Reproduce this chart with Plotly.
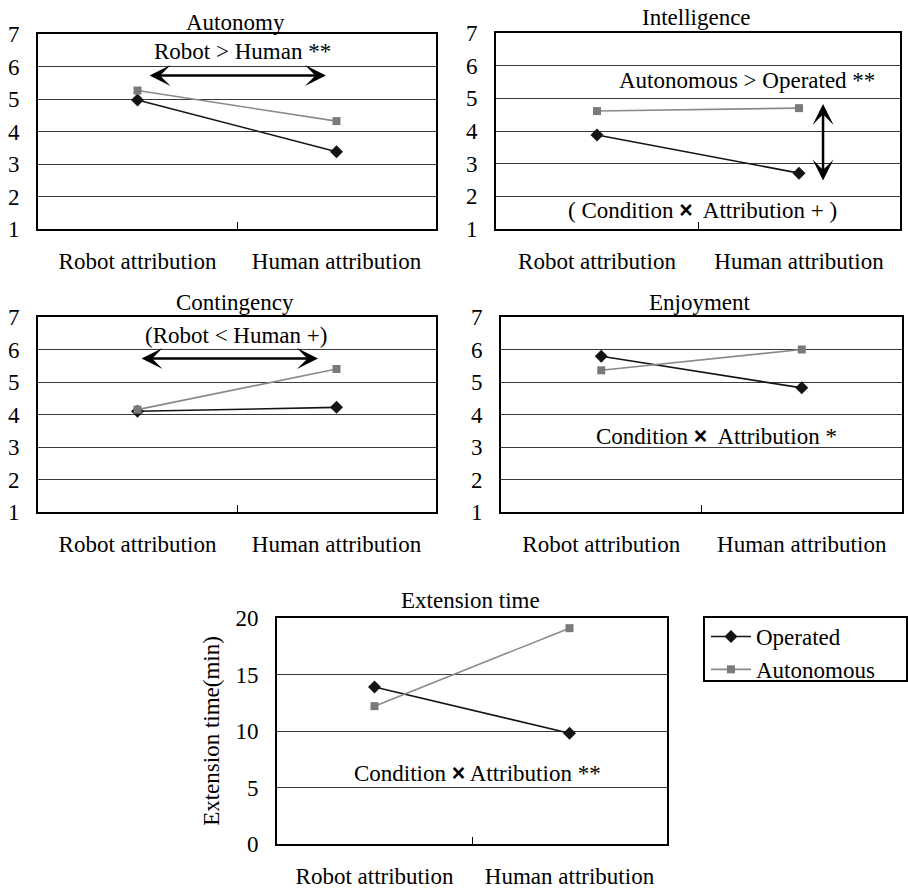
import plotly.graph_objects as go

# ---------------- data ----------------
categories = ["Robot attribution", "Human attribution"]
series_names = ["Operated", "Autonomous"]
panel_titles = ["Autonomy", "Intelligence", "Contingency", "Enjoyment", "Extension time"]

autonomy_operated = [4.97, 3.38]
autonomy_autonomous = [5.26, 4.32]
intelligence_operated = [3.88, 2.71]
intelligence_autonomous = [4.61, 4.70]
contingency_operated = [4.10, 4.22]
contingency_autonomous = [4.15, 5.40]
enjoyment_operated = [5.79, 4.82]
enjoyment_autonomous = [5.36, 6.00]
extension_operated = [13.9, 9.8]
extension_autonomous = [12.2, 19.1]

likert_ticks = [1, 2, 3, 4, 5, 6, 7]
time_ticks = [0, 5, 10, 15, 20]
time_axis_title = "Extension time(min)"

# ---------------- layout helpers ----------------
W, H = 908, 890
FONT = "Liberation Serif, Times New Roman, serif"
FS = 23


def fx(px):
    return px / W


def fy(py):
    return 1 - py / H


panels = [
    dict(x=(38, 436), y=(34, 229), op=autonomy_operated, au=autonomy_autonomous,
         rng=[1, 7], ticks=likert_ticks, title=panel_titles[0], tpos=(235, 22)),
    dict(x=(496, 900), y=(33, 229), op=intelligence_operated, au=intelligence_autonomous,
         rng=[1, 7], ticks=likert_ticks, title=panel_titles[1], tpos=(696, 18)),
    dict(x=(38, 436), y=(317, 512), op=contingency_operated, au=contingency_autonomous,
         rng=[1, 7], ticks=likert_ticks, title=panel_titles[2], tpos=(235, 302)),
    dict(x=(501, 902), y=(317, 512), op=enjoyment_operated, au=enjoyment_autonomous,
         rng=[1, 7], ticks=likert_ticks, title=panel_titles[3], tpos=(700, 303)),
    dict(x=(277, 667), y=(618, 844), op=extension_operated, au=extension_autonomous,
         rng=[0, 20], ticks=time_ticks, title=panel_titles[4], tpos=(470, 600)),
]

OP_COLOR = "#141414"
AU_COLOR = "#7a7a7a"
AU_LINE = "#8a8a8a"

fig = go.Figure()
annotations = []
layout_axes = {}

for i, p in enumerate(panels):
    n = "" if i == 0 else str(i + 1)
    xa, ya = "x" + n, "y" + n
    last = i == len(panels) - 1
    fig.add_trace(go.Scatter(
        x=categories, y=p["op"], mode="lines+markers", name=series_names[0],
        line=dict(color=OP_COLOR, width=1.6),
        marker=dict(symbol="diamond", size=10, color=OP_COLOR),
        xaxis=xa, yaxis=ya, showlegend=last, legendrank=1))
    fig.add_trace(go.Scatter(
        x=categories, y=p["au"], mode="lines+markers", name=series_names[1],
        line=dict(color=AU_LINE, width=1.6),
        marker=dict(symbol="square", size=8, color=AU_COLOR),
        xaxis=xa, yaxis=ya, showlegend=last, legendrank=2))

    layout_axes["xaxis" + n] = dict(
        domain=[fx(p["x"][0]), fx(p["x"][1])], anchor=ya,
        type="category", categoryorder="array", categoryarray=categories,
        range=[-0.5, 1.5], tickson="boundaries", ticks="inside", ticklen=7,
        tickcolor="black", tickwidth=1, showgrid=False, zeroline=False,
        showline=True, mirror=True, linecolor="black", linewidth=1.6,
        tickfont=dict(family=FONT, size=FS, color="black"),
        ticklabelstandoff=11, automargin=False, fixedrange=True)
    layout_axes["yaxis" + n] = dict(
        domain=[fy(p["y"][1]), fy(p["y"][0])], anchor=xa,
        range=p["rng"], tickvals=p["ticks"], ticks="", showgrid=True,
        gridcolor="#3a3a3a", gridwidth=1, zeroline=False,
        showline=True, mirror=True, linecolor="black", linewidth=1.6,
        tickfont=dict(family=FONT, size=FS, color="black"),
        ticklabelstandoff=12, automargin=False, fixedrange=True)

    annotations.append(dict(
        text=p["title"], x=fx(p["tpos"][0]), y=fy(p["tpos"][1]),
        xref="paper", yref="paper", xanchor="center", yanchor="middle",
        showarrow=False, font=dict(family=FONT, size=FS, color="black")))

layout_axes["yaxis5"]["title"] = dict(
    text=time_axis_title, font=dict(family=FONT, size=FS, color="black"), standoff=10)

TIMES = '<span style="font-family:Liberation Sans, Arial, sans-serif;font-weight:bold">×</span>'


def note(text, x, y, xa, ya):
    annotations.append(dict(text=text, x=x, y=y, xref=xa, yref=ya, showarrow=False,
                            xanchor="center", yanchor="middle",
                            font=dict(family=FONT, size=FS, color="black")))


def arrow(x0, y0, x1, y1, xa, ya):
    annotations.append(dict(text="", x=x1, y=y1, ax=x0, ay=y0, xref=xa, yref=ya,
                            axref=xa, ayref=ya, showarrow=True, arrowside="end+start",
                            arrowhead=3, startarrowhead=3, arrowsize=1.4,
                            startarrowsize=1.4, arrowwidth=2.5, arrowcolor="black",
                            standoff=0, startstandoff=0))


# Panel 1
note("Robot &gt; Human **", 0.53, 6.45, "x", "y")
arrow(0.053, 5.72, 0.947, 5.72, "x", "y")
# Panel 2
note("Autonomous &gt; Operated **", 0.743, 5.56, "x2", "y2")
note("( Condition " + TIMES + "  Attribution + )", 0.52, 1.58, "x2", "y2")
arrow(1.119, 2.44, 1.119, 4.83, "x2", "y2")
# Panel 3
note("(Robot &lt; Human +)", 0.495, 6.44, "x3", "y3")
arrow(0.013, 5.72, 0.907, 5.72, "x3", "y3")
# Panel 4
note("Condition " + TIMES + "  Attribution *", 0.577, 3.33, "x4", "y4")
# Panel 5
note("Condition " + TIMES + " Attribution **", 0.526, 6.3, "x5", "y5")

shapes = [dict(type="rect", xref="paper", yref="paper",
               x0=fx(704), x1=fx(907), y0=fy(681), y1=fy(617),
               line=dict(color="black", width=2), fillcolor="rgba(0,0,0,0)")]

fig.update_layout(
    width=W, height=H, margin=dict(l=0, r=0, t=0, b=0, autoexpand=False),
    paper_bgcolor="white", plot_bgcolor="white",
    font=dict(family=FONT, size=FS, color="black"),
    annotations=annotations, shapes=shapes,
    legend=dict(x=fx(706), y=fy(615), xanchor="left", yanchor="top",
                bgcolor="rgba(0,0,0,0)", borderwidth=0,
                font=dict(family=FONT, size=FS, color="black"),
                tracegroupgap=0, itemwidth=40),
    **layout_axes)

fig.write_html(
    "out.html",
    config={"displayModeBar": False},
    post_script="document.body.style.margin='0';document.body.style.overflow='hidden';",
)
